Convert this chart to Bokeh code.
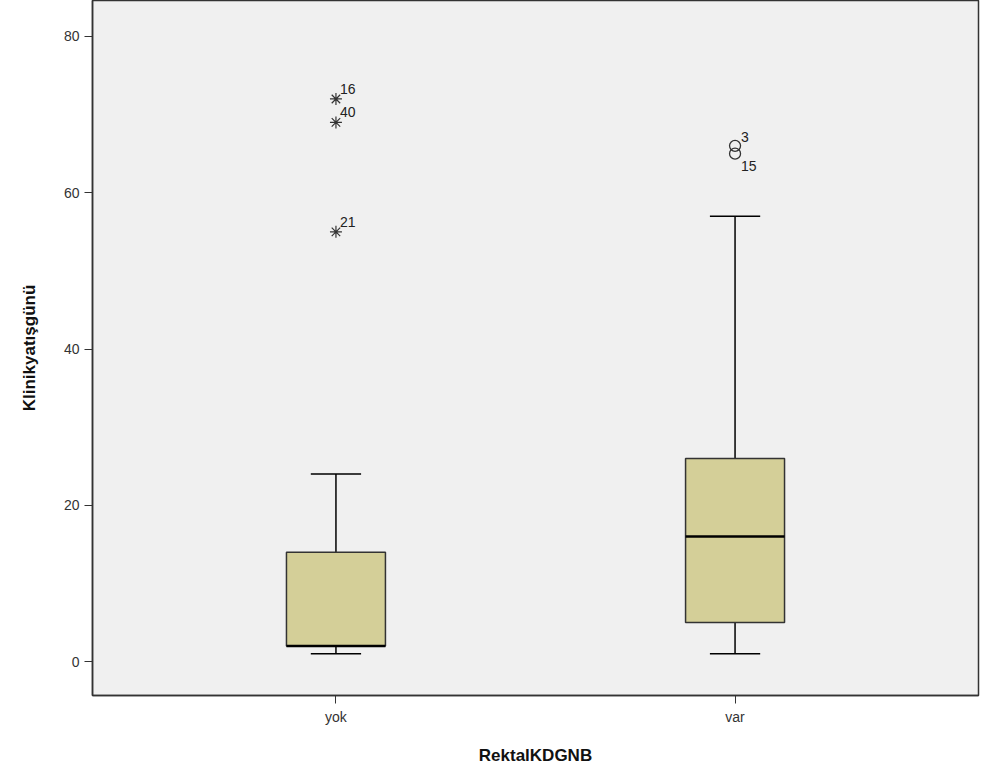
from bokeh.plotting import figure
from bokeh.models import ColumnDataSource, Range1d, FixedTicker, LabelSet
from bokeh.core.properties import value
from bokeh.embed import file_html
from bokeh.resources import INLINE
import numpy as np

# Data
categories = ["yok", "var"]
positions = [1, 2]
lower_whisker = [1, 1]
q1 = [2, 5]
median = [2, 16]
q3 = [14, 26]
upper_whisker = [24, 57]

star_x = [1, 1, 1]
star_y = [72, 69, 55]
star_labels = ["16", "40", "21"]

circ_x = [2, 2]
circ_y = [66, 65]
circ_labels = ["3", "15"]
circ_label_dy = [4, -17]

FONT = "Liberation Sans"

p = figure(width=981, height=767, output_backend="svg", toolbar_location=None,
           x_range=Range1d(0.39, 2.61), y_range=Range1d(-4.33, 84.6),
           min_border_left=92, min_border_right=3, min_border_top=0, min_border_bottom=65)
p.background_fill_color = "#F0F0F0"
p.border_fill_color = "white"
p.outline_line_color = "#333333"
p.outline_line_width = 1.5
p.xgrid.visible = False
p.ygrid.visible = False

half_w = 0.124
cap_w = 0.063

src = ColumnDataSource(dict(x=positions, lw=lower_whisker, q1=q1, med=median, q3=q3, uw=upper_whisker))
p.segment(x0="x", y0="q3", x1="x", y1="uw", source=src, line_color="black", line_width=1.5)
p.segment(x0="x", y0="lw", x1="x", y1="q1", source=src, line_color="black", line_width=1.5)
xs = np.array(positions, dtype=float)
p.segment(x0=xs - cap_w, y0=upper_whisker, x1=xs + cap_w, y1=upper_whisker, line_color="black", line_width=1.5)
p.segment(x0=xs - cap_w, y0=lower_whisker, x1=xs + cap_w, y1=lower_whisker, line_color="black", line_width=1.5)
p.quad(left=xs - half_w, right=xs + half_w, bottom=q1, top=q3,
       fill_color="#D4CF98", line_color="#333333", line_width=1.5)
p.segment(x0=xs - half_w, y0=median, x1=xs + half_w, y1=median, line_color="black", line_width=2.5)

p.scatter(star_x, star_y, marker="asterisk", size=12, line_color="#333333", line_width=1.2)
p.scatter(circ_x, circ_y, marker="circle", size=11, fill_color=None, line_color="#333333", line_width=1.3)

ssrc = ColumnDataSource(dict(x=star_x, y=star_y, t=star_labels))
p.add_layout(LabelSet(x="x", y="y", text="t", source=ssrc, x_offset=4, y_offset=5,
                      text_font=value(FONT), text_font_size=value("14px"), text_color=value("#222222")))
csrc = ColumnDataSource(dict(x=circ_x, y=circ_y, t=circ_labels, dy=circ_label_dy))
p.add_layout(LabelSet(x="x", y="y", text="t", source=csrc, x_offset=6, y_offset="dy",
                      text_font=value(FONT), text_font_size=value("14px"), text_color=value("#222222")))

p.xaxis.ticker = FixedTicker(ticks=positions)
p.xaxis.major_label_overrides = {pos: c for pos, c in zip(positions, categories)}
p.yaxis.ticker = FixedTicker(ticks=[0, 20, 40, 60, 80])
for ax in (p.xaxis[0], p.yaxis[0]):
    ax.axis_line_color = "#333333"
    ax.axis_line_width = 1.5
    ax.major_tick_line_color = "#333333"
    ax.major_tick_out = 8
    ax.major_tick_in = 0
    ax.minor_tick_line_color = None
    ax.major_label_text_font = FONT
    ax.major_label_text_font_size = "14px"
    ax.major_label_text_color = "#333333"
    ax.axis_label_text_font = FONT
    ax.axis_label_text_font_size = "17px"
    ax.axis_label_text_font_style = "bold"
    ax.axis_label_text_color = "#111111"
p.xaxis.axis_label = "RektalKDGNB"
p.yaxis.axis_label = "Klinikyatışgünü"
p.xaxis.axis_label_standoff = 18
p.yaxis.axis_label_standoff = 22

open("out.html", "w").write(file_html(p, INLINE))
